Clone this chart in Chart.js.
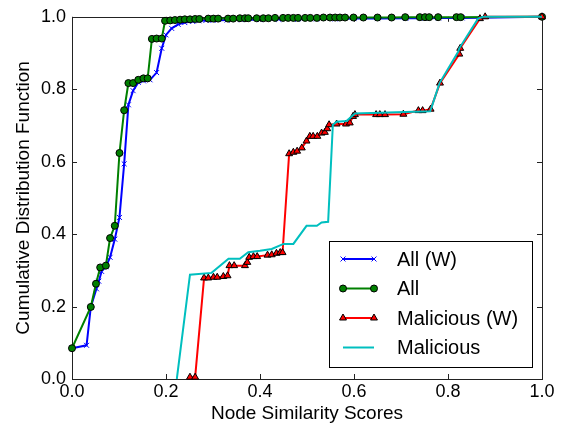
<!DOCTYPE html>
<html lang="en">
<head>
<meta charset="UTF-8" />
<title>Node Similarity CDF</title>
<script src="https://cdn.jsdelivr.net/npm/chart.js"></script>
<style>
  html, body { margin: 0; padding: 0; background: #fff; }
  canvas { display: block; }
</style>
</head>
<body>
<canvas id="cdfChart" width="561" height="425"></canvas>
<script>
// CDF points
const allWX = [0.0, 0.031, 0.040, 0.052, 0.057, 0.063, 0.072, 0.081, 0.091, 0.101, 0.111, 0.120, 0.130, 0.141, 0.152, 0.166, 0.180, 0.191, 0.200, 0.212, 0.226, 0.240, 0.257, 0.270, 0.285, 0.300, 0.330, 0.360, 0.400, 0.440, 0.480, 0.520, 0.560, 0.600, 0.650, 0.710, 0.750, 0.780, 0.830, 1.0];
const allWY = [0.085, 0.093, 0.199, 0.249, 0.270, 0.297, 0.310, 0.336, 0.386, 0.446, 0.594, 0.757, 0.796, 0.819, 0.823, 0.826, 0.846, 0.913, 0.950, 0.968, 0.979, 0.984, 0.987, 0.989, 0.990, 0.990, 0.991, 0.992, 0.992, 0.993, 0.993, 0.994, 0.994, 0.995, 0.995, 0.996, 0.996, 0.997, 0.997, 1.0];

const allX = [0.0, 0.040, 0.051, 0.060, 0.072, 0.081, 0.091, 0.101, 0.111, 0.120, 0.130, 0.141, 0.152, 0.161, 0.170, 0.180, 0.191, 0.198, 0.209, 0.219, 0.230, 0.240, 0.251, 0.262, 0.271, 0.290, 0.301, 0.311, 0.332, 0.343, 0.357, 0.368, 0.375, 0.393, 0.407, 0.418, 0.432, 0.449, 0.460, 0.471, 0.481, 0.496, 0.507, 0.521, 0.535, 0.549, 0.560, 0.570, 0.581, 0.599, 0.620, 0.650, 0.680, 0.709, 0.740, 0.751, 0.760, 0.779, 0.818, 0.827, 1.0];
const allY = [0.085, 0.199, 0.263, 0.308, 0.313, 0.389, 0.423, 0.624, 0.742, 0.817, 0.817, 0.826, 0.830, 0.830, 0.939, 0.940, 0.940, 0.989, 0.990, 0.991, 0.992, 0.993, 0.993, 0.994, 0.994, 0.995, 0.995, 0.995, 0.995, 0.995, 0.996, 0.996, 0.996, 0.996, 0.996, 0.996, 0.997, 0.997, 0.997, 0.997, 0.997, 0.997, 0.997, 0.997, 0.998, 0.998, 0.998, 0.998, 0.998, 0.998, 0.998, 0.998, 0.998, 0.999, 0.999, 0.999, 0.999, 0.999, 0.999, 0.999, 1.0];

const malWX = [0.251, 0.262, 0.281, 0.290, 0.301, 0.309, 0.322, 0.331, 0.335, 0.345, 0.368, 0.373, 0.377, 0.386, 0.394, 0.416, 0.425, 0.435, 0.443, 0.448, 0.462, 0.471, 0.479, 0.489, 0.499, 0.506, 0.513, 0.522, 0.531, 0.538, 0.543, 0.547, 0.563, 0.583, 0.591, 0.598, 0.602, 0.647, 0.655, 0.666, 0.705, 0.737, 0.746, 0.763, 0.783, 0.824, 0.826, 0.868, 0.879, 1.0];
const malWY = [0.005, 0.005, 0.279, 0.279, 0.281, 0.281, 0.283, 0.285, 0.313, 0.313, 0.313, 0.322, 0.336, 0.338, 0.338, 0.342, 0.343, 0.347, 0.349, 0.349, 0.622, 0.626, 0.629, 0.638, 0.657, 0.670, 0.670, 0.670, 0.679, 0.681, 0.691, 0.702, 0.704, 0.704, 0.707, 0.725, 0.730, 0.730, 0.730, 0.730, 0.731, 0.741, 0.741, 0.745, 0.817, 0.897, 0.913, 0.995, 1.0, 1.0];

const malX = [0.223, 0.251, 0.297, 0.333, 0.357, 0.375, 0.400, 0.425, 0.450, 0.471, 0.499, 0.521, 0.531, 0.545, 0.555, 0.563, 0.584, 0.602, 0.762, 0.765, 0.782, 0.822, 0.824, 0.864, 0.875, 1.0];
const malY = [0.0, 0.288, 0.293, 0.332, 0.332, 0.350, 0.354, 0.359, 0.373, 0.373, 0.423, 0.423, 0.432, 0.434, 0.702, 0.710, 0.712, 0.733, 0.739, 0.750, 0.817, 0.904, 0.913, 0.995, 1.0, 1.0];

const seriesLabels = ["All (W)", "All", "Malicious (W)", "Malicious"];
const xTicks = [0.0, 0.2, 0.4, 0.6, 0.8, 1.0];
const yTicks = [0.0, 0.2, 0.4, 0.6, 0.8, 1.0];

const pts = (xs, ys) => xs.map((x, i) => ({ x: x, y: ys[i] }));
const FONT = "'Liberation Sans', Arial, sans-serif";

// matplotlib-style box with inward ticks on all four sides
const framePlugin = {
  id: "frame",
  beforeDatasetsDraw(chart) {
    const { ctx, chartArea: a, scales } = chart;
    ctx.save();
    ctx.strokeStyle = "#222";
    ctx.lineWidth = 1;
    ctx.beginPath();
    xTicks.forEach(v => {
      const px = Math.round(scales.x.getPixelForValue(v)) + 0.5;
      ctx.moveTo(px, a.bottom); ctx.lineTo(px, a.bottom - 5);
      ctx.moveTo(px, a.top); ctx.lineTo(px, a.top + 5);
    });
    yTicks.forEach(v => {
      const py = Math.round(scales.y.getPixelForValue(v)) + 0.5;
      ctx.moveTo(a.left, py); ctx.lineTo(a.left + 5, py);
      ctx.moveTo(a.right, py); ctx.lineTo(a.right - 5, py);
    });
    ctx.stroke();
    ctx.strokeRect(Math.round(a.left) + 0.5, Math.round(a.top) + 0.5,
      Math.round(a.right - a.left), Math.round(a.bottom - a.top));
    ctx.restore();
  }
};

// legend box inside the plot, lower right
const legendPlugin = {
  id: "boxLegend",
  afterDatasetsDraw(chart) {
    const { ctx, chartArea: a } = chart;
    const w = 203, h = 126;
    const left = a.right - 10 - w, top = a.bottom - 12 - h;
    ctx.save();
    ctx.fillStyle = "#fff";
    ctx.strokeStyle = "#000";
    ctx.lineWidth = 1;
    ctx.fillRect(left + 0.5, top + 0.5, w, h);
    ctx.strokeRect(left + 0.5, top + 0.5, w, h);
    chart.data.datasets.forEach((ds, i) => {
      const y = top + 18 + i * 29.5;
      const x0 = left + 14, x1 = left + 45;
      ctx.strokeStyle = ds.borderColor;
      ctx.lineWidth = ds.borderWidth;
      ctx.beginPath();
      ctx.moveTo(x0, y); ctx.lineTo(x1, y);
      ctx.stroke();
      if (ds.pointRadius > 0) {
        const opts = {
          pointStyle: ds.pointStyle, radius: ds.pointRadius, rotation: 0,
          borderWidth: ds.pointBorderWidth
        };
        [x0, x1].forEach(px => {
          ctx.fillStyle = ds.pointBackgroundColor;
          ctx.strokeStyle = ds.pointBorderColor;
          ctx.lineWidth = ds.pointBorderWidth;
          Chart.helpers.drawPoint(ctx, opts, px, y);
        });
      }
      ctx.fillStyle = "#000";
      ctx.font = "20px " + FONT;
      ctx.textBaseline = "middle";
      ctx.textAlign = "left";
      ctx.fillText(seriesLabels[i], left + 68, y + 1);
    });
    ctx.restore();
  }
};

new Chart(document.getElementById("cdfChart").getContext("2d"), {
  type: "scatter",
  data: {
    datasets: [
      {
        label: seriesLabels[0], data: pts(allWX, allWY), order: 4,
        showLine: true, borderColor: "#0000ff", borderWidth: 2,
        pointStyle: "crossRot", pointRadius: 3.5, pointBorderWidth: 1,
        pointBorderColor: "#0000ff", pointBackgroundColor: "#0000ff", clip: false
      },
      {
        label: seriesLabels[1], data: pts(allX, allY), order: 3,
        showLine: true, borderColor: "#008000", borderWidth: 2,
        pointStyle: "circle", pointRadius: 3.5, pointBorderWidth: 1,
        pointBorderColor: "#000", pointBackgroundColor: "#008000", clip: false
      },
      {
        label: seriesLabels[2], data: pts(malWX, malWY), order: 2,
        showLine: true, borderColor: "#ff0000", borderWidth: 2,
        pointStyle: "triangle", pointRadius: 4, pointBorderWidth: 1,
        pointBorderColor: "#000", pointBackgroundColor: "#ff0000", clip: false
      },
      {
        label: seriesLabels[3], data: pts(malX, malY), order: 1,
        showLine: true, borderColor: "#00bfbf", borderWidth: 2,
        pointRadius: 0, pointBorderWidth: 0,
        pointBorderColor: "#00bfbf", pointBackgroundColor: "#00bfbf", clip: false
      }
    ]
  },
  options: {
    responsive: false,
    animation: false,
    layout: { padding: { top: 15, right: 19, left: 0, bottom: 0 } },
    plugins: { legend: { display: false }, tooltip: { enabled: false } },
    scales: {
      x: {
        type: "linear", min: 0, max: 1,
        afterBuildTicks: s => { s.ticks = xTicks.map(v => ({ value: v })); },
        afterFit: s => { s.height = 46; },
        grid: { display: false, drawTicks: false }, border: { display: false },
        ticks: {
          color: "#000", padding: 2, font: { family: FONT, size: 18 },
          callback: v => v.toFixed(1)
        },
        title: {
          display: true, text: "Node Similarity Scores", color: "#000",
          font: { family: FONT, size: 19 }, padding: { top: 0, bottom: 0 }
        }
      },
      y: {
        type: "linear", min: 0, max: 1,
        afterBuildTicks: s => { s.ticks = yTicks.map(v => ({ value: v })); },
        afterFit: s => { s.width = 72; },
        grid: { display: false, drawTicks: false }, border: { display: false },
        ticks: {
          color: "#000", padding: 6, font: { family: FONT, size: 18 },
          callback: v => v.toFixed(1)
        },
        title: {
          display: true, text: "Cumulative Distribution Function", color: "#000",
          font: { family: FONT, size: 19 }, padding: { top: 12, bottom: 0 }
        }
      }
    }
  },
  plugins: [framePlugin, legendPlugin]
});
</script>
</body>
</html>
